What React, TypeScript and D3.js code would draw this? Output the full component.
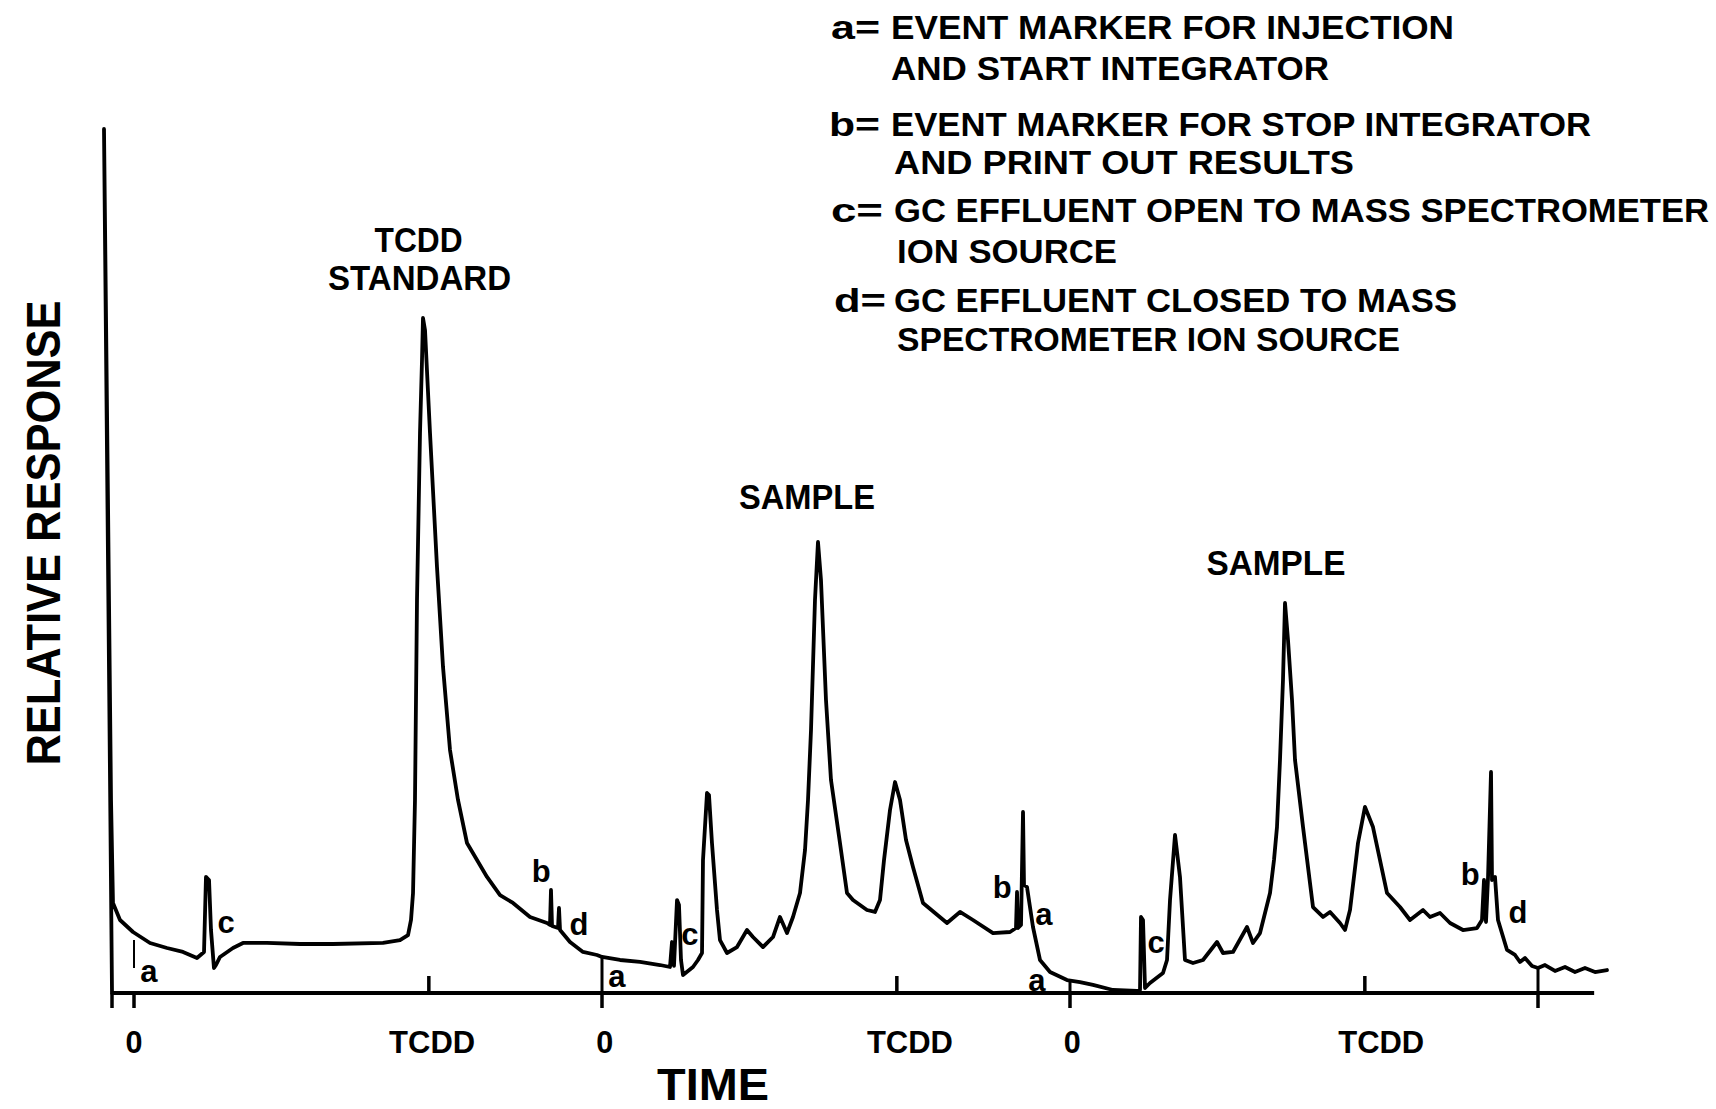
import React from 'react';
import * as d3 from 'd3';

// ---- data (time in arbitrary minutes, response in % of full scale) ----
const traceTime = [
  -0.47, -0.641, -0.556, -0.491, -0.449, -0.299, -0.021, 0.342, 0.705, 1.047,
  1.346, 1.496, 1.538, 1.603, 1.645, 1.709, 1.752, 1.838, 2.115, 2.329,
  2.842, 3.547, 4.252, 5.321, 5.684, 5.855, 5.919, 5.962, 6.004, 6.047,
  6.111, 6.154, 6.175, 6.218, 6.325, 6.474, 6.603, 6.752, 6.923, 7.115,
  7.329, 7.543, 7.821, 8.098, 8.462, 8.825, 8.889, 8.91, 8.932, 9.06,
  9.081, 9.103, 9.316, 9.594, 9.893, 10.0, 10.385, 10.812, 11.239, 11.453,
  11.496, 11.538, 11.603, 11.645, 11.688, 11.731, 11.944, 12.051, 12.137, 12.158,
  12.244, 12.286, 12.35, 12.457, 12.521, 12.671, 12.885, 13.098, 13.226, 13.44,
  13.654, 13.803, 13.953, 14.081, 14.231, 14.338, 14.402, 14.466, 14.551, 14.615,
  14.679, 14.786, 14.893, 15.085, 15.235, 15.363, 15.662, 15.833, 15.94, 16.026,
  16.154, 16.261, 16.368, 16.496, 16.645, 16.859, 17.372, 17.65, 17.927, 18.355,
  18.718, 18.846, 18.868, 18.889, 18.953, 18.996, 19.017, 19.081, 19.209, 19.359,
  19.573, 19.936, 20.214, 20.491, 20.919, 21.432, 21.496, 21.517, 21.56, 21.603,
  21.709, 21.987, 22.073, 22.137, 22.244, 22.35, 22.457, 22.628, 22.842, 23.141,
  23.269, 23.483, 23.782, 23.91, 24.06, 24.274, 24.359, 24.423, 24.487, 24.551,
  24.594, 24.658, 24.744, 24.808, 24.979, 25.192, 25.406, 25.556, 25.769, 25.876,
  25.983, 26.154, 26.303, 26.474, 26.774, 27.051, 27.265, 27.543, 27.692, 27.906,
  28.12, 28.397, 28.697, 28.803, 28.846, 28.889, 28.932, 28.996, 29.017, 29.081,
  29.145, 29.338, 29.509, 29.615, 29.722, 29.872, 30.0, 30.15, 30.363, 30.577,
  30.791, 31.004, 31.218, 31.474,
];
const traceResponse = [
  0, 100, 57.06, 22.34, 10.42, 8.45, 7.06, 5.79, 5.21, 4.75,
  4.05, 4.75, 13.43, 13.08, 7.29, 2.89, 3.24, 4.17, 5.21, 5.79,
  5.79, 5.67, 5.67, 5.79, 6.13, 6.71, 8.45, 11.57, 22.34, 45.49,
  64.81, 73.26, 78.13, 76.74, 64.81, 49.31, 37.73, 28.13, 22.34, 17.36,
  15.39, 13.43, 11.34, 10.42, 8.8, 8.1, 7.87, 11.92, 7.75, 7.52,
  9.84, 7.29, 5.9, 4.75, 4.4, 4.17, 3.82, 3.59, 3.24, 3.01,
  5.9, 3.13, 10.76, 10.19, 3.82, 2.08, 3.01, 3.82, 4.63, 15.39,
  23.15, 22.92, 17.36, 9.61, 6.13, 4.63, 5.32, 7.29, 6.48, 5.32,
  6.48, 8.8, 6.94, 8.8, 11.57, 16.55, 22.34, 30.44, 45.49, 52.2,
  47.8, 33.91, 24.65, 17.36, 11.57, 10.76, 9.61, 9.38, 10.76, 15.39,
  21.18, 24.42, 22.34, 17.71, 14.58, 10.42, 8.1, 9.38, 8.45, 6.94,
  7.06, 7.52, 11.69, 7.52, 7.87, 20.95, 12.5, 12.27, 7.64, 3.82,
  2.43, 1.5, 1.27, 0.93, 0.35, 0.23, 0.35, 8.8, 8.45, 0.58,
  1.16, 2.31, 3.82, 10.76, 18.29, 13.43, 3.82, 3.47, 3.82, 5.9,
  4.63, 4.75, 7.64, 5.79, 6.94, 11.57, 15.39, 19.21, 26.97, 36.23,
  45.14, 40.86, 33.91, 26.97, 19.21, 9.95, 8.8, 9.38, 8.1, 7.29,
  9.61, 17.36, 21.53, 19.21, 11.57, 9.95, 8.45, 9.61, 8.8, 9.26,
  8.1, 7.29, 7.52, 8.45, 13.08, 8.22, 13.31, 25.58, 13.08, 13.43,
  8.45, 4.98, 4.4, 3.59, 4.05, 3.13, 2.89, 3.24, 2.55, 3.01,
  2.43, 2.89, 2.43, 2.66,
];

const axisStart = -0.47;
const axisEnd = 31.2;
const injectionTimes = [0, 10, 20, 30];
const injectionMarkTop = [6.13, 4.17, 1.27, 2.89];
const injectionMarkBottom = [2.89, 0, 0, 0];
const lowerTickTimes = [-0.47, 0, 10, 20, 30];
const tcddTimes = [6.3, 16.3, 26.3];
const tickLabels = ['0', 'TCDD', '0', 'TCDD', '0', 'TCDD'];
const tickLabelTimes = [0, 6.37, 10.06, 16.58, 20.05, 26.65];

const eventLetters = ['a', 'c', 'b', 'd', 'a', 'c', 'b', 'a', 'a', 'c', 'b', 'd'];
const eventTimes = [0.32, 1.97, 8.7, 9.51, 10.32, 11.88, 18.55, 19.44, 19.29, 21.84, 28.55, 29.57];
const eventLevels = [1.27, 6.94, 12.85, 6.71, 0.69, 5.56, 11.0, 7.87, 0.23, 4.63, 12.5, 8.1];

const peakLabelLines = [['TCDD', 'STANDARD'], ['SAMPLE'], ['SAMPLE']];
const peakLabelTimes = [6.08, 14.38, 24.4];
const peakLabelLevels = [85.76, 56.02, 48.38];

const legendKeys = ['a=', 'b=', 'c=', 'd='];
const legendLines = [
  ['EVENT MARKER FOR INJECTION', 'AND START INTEGRATOR'],
  ['EVENT MARKER FOR STOP INTEGRATOR', 'AND PRINT OUT RESULTS'],
  ['GC EFFLUENT OPEN TO MASS SPECTROMETER', 'ION SOURCE'],
  ['GC EFFLUENT CLOSED TO MASS', 'SPECTROMETER ION SOURCE'],
];

const xTitle = 'TIME';
const yTitle = 'RELATIVE RESPONSE';

// ---- layout ----
const W = 1716;
const H = 1109;
const FONT = "'Liberation Sans', Arial, Helvetica, sans-serif";

export default function App() {
  const x = d3.scaleLinear().domain([0, 30]).range([134, 1538]);
  const y = d3.scaleLinear().domain([0, 100]).range([993, 129]);
  const pts: [number, number][] = traceTime.map((t, i) => [t, traceResponse[i]]);
  const line = d3
    .line<[number, number]>()
    .x((d) => x(d[0]))
    .y((d) => y(d[1]))
    .curve(d3.curveLinear);

  const y0 = y(0);

  // legend layout
  const legendKeyX = [831, 829, 831, 834];
  const legendKeyW = [49, 51, 52, 52];
  const legendBodyX = [[891, 891], [891, 894], [894, 897], [894, 897]];
  const legendBodyW = [[563, 438], [700, 460], [815, 220], [563, 503]];
  const legendBase = [[39, 80], [136, 174], [222, 263], [312, 351]];

  const peakLabelWidths = [[88, 183], [136], [139]];
  const peakLabelOffsets = [[0, 1], [0], [0]];

  return (
    <svg
      width={W}
      height={H}
      viewBox={`0 0 ${W} ${H}`}
      style={{ position: 'absolute', left: 0, top: 0, background: '#fff' }}
    >
      <rect x={0} y={0} width={W} height={H} fill="#fff" />
      {/* x axis */}
      <line x1={x(axisStart)} x2={x(axisEnd)} y1={y0} y2={y0} stroke="#000" strokeWidth={4} />
      {lowerTickTimes.map((t, i) => (
        <line key={'lt' + i} x1={x(t)} x2={x(t)} y1={y0} y2={y0 + 15} stroke="#000" strokeWidth={3.5} />
      ))}
      {tcddTimes.map((t, i) => (
        <line key={'tt' + i} x1={x(t)} x2={x(t)} y1={y0} y2={y0 - 17} stroke="#000" strokeWidth={3.5} />
      ))}
      {injectionTimes.map((t, i) => (
        <line
          key={'im' + i}
          x1={x(t)}
          x2={x(t)}
          y1={y(injectionMarkTop[i])}
          y2={y(injectionMarkBottom[i])}
          stroke="#000"
          strokeWidth={i === 0 ? 2 : 3}
        />
      ))}
      {/* trace */}
      <path
        d={line(pts) || ''}
        fill="none"
        stroke="#000"
        strokeWidth={3.8}
        strokeLinejoin="round"
        strokeLinecap="round"
      />
      {/* tick labels */}
      {tickLabels.map((s, i) => (
        <text
          key={'tl' + i}
          x={x(tickLabelTimes[i])}
          y={1053}
          textAnchor="middle"
          fontFamily={FONT}
          fontWeight="bold"
          fontSize={31}
          {...(s === 'TCDD'
            ? { textLength: 86, lengthAdjust: 'spacingAndGlyphs' }
            : { textLength: 17, lengthAdjust: 'spacingAndGlyphs' })}
        >
          {s}
        </text>
      ))}
      {/* event marker letters */}
      {eventLetters.map((s, i) => (
        <text
          key={'ev' + i}
          x={x(eventTimes[i])}
          y={y(eventLevels[i])}
          textAnchor="middle"
          fontFamily={FONT}
          fontWeight="bold"
          fontSize={31}
        >
          {s}
        </text>
      ))}
      {/* peak labels */}
      {peakLabelLines.map((lines, i) =>
        lines.map((s, j) => (
          <text
            key={'pk' + i + '-' + j}
            x={x(peakLabelTimes[i]) + peakLabelOffsets[i][j]}
            y={y(peakLabelLevels[i]) + j * 38}
            textAnchor="middle"
            fontFamily={FONT}
            fontWeight="bold"
            fontSize={35}
            textLength={peakLabelWidths[i][j]}
            lengthAdjust="spacingAndGlyphs"
          >
            {s}
          </text>
        ))
      )}
      {/* axis titles */}
      <text
        x={713}
        y={1100}
        textAnchor="middle"
        fontFamily={FONT}
        fontWeight="bold"
        fontSize={45}
        textLength={112}
        lengthAdjust="spacingAndGlyphs"
      >
        {xTitle}
      </text>
      <text
        transform={`translate(60,533) rotate(-90)`}
        textAnchor="middle"
        fontFamily={FONT}
        fontWeight="bold"
        fontSize={49}
        textLength={465}
        lengthAdjust="spacingAndGlyphs"
      >
        {yTitle}
      </text>
      {/* legend */}
      {legendKeys.map((k, i) => (
        <g key={'lg' + i}>
          <text
            x={legendKeyX[i]}
            y={legendBase[i][0]}
            fontFamily={FONT}
            fontWeight="bold"
            fontSize={34}
            textLength={legendKeyW[i]}
            lengthAdjust="spacingAndGlyphs"
          >
            {k}
          </text>
          {legendLines[i].map((s, j) => (
            <text
              key={j}
              x={legendBodyX[i][j]}
              y={legendBase[i][j]}
              fontFamily={FONT}
              fontWeight="bold"
              fontSize={34}
              textLength={legendBodyW[i][j]}
              lengthAdjust="spacingAndGlyphs"
            >
              {s}
            </text>
          ))}
        </g>
      ))}
    </svg>
  );
}
